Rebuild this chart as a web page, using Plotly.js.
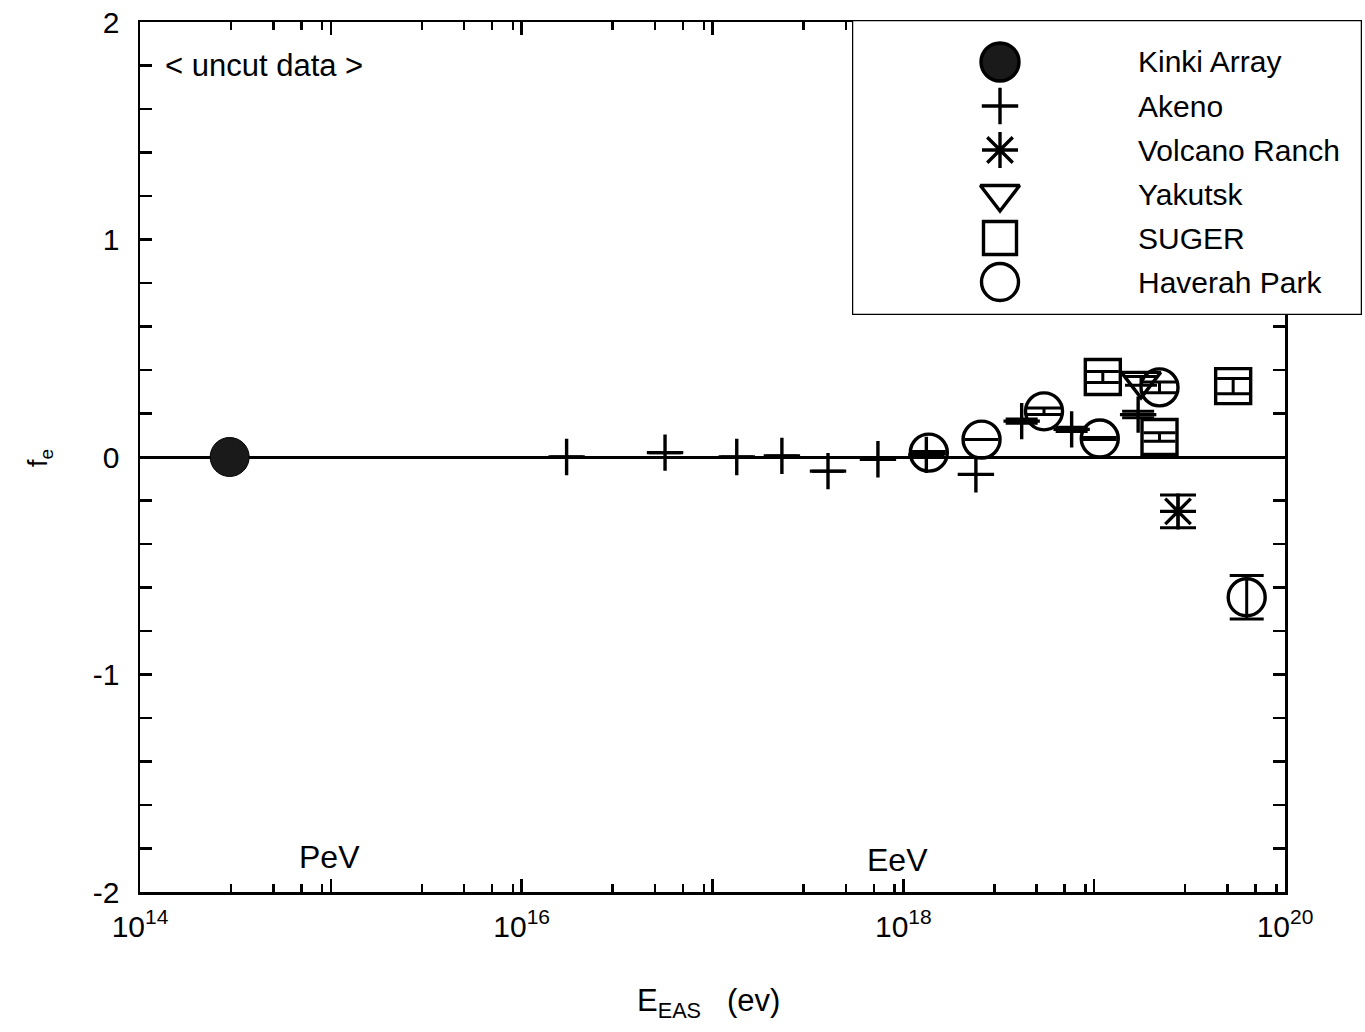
<!DOCTYPE html>
<html><head><meta charset="utf-8">
<script src="https://cdn.plot.ly/plotly-3.0.1.min.js"></script>
<style>html,body{margin:0;padding:0;background:#fff}#chart{width:1365px;height:1032px}</style>
</head><body><div id="chart"></div>
<script>
// ---- data ----
const seriesNames = ['Kinki Array', 'Akeno', 'Volcano Ranch', 'Yakutsk', 'SUGER', 'Haverah Park'];

const kinkiE = [2.95e14];
const kinkiF = [0.0];

const akenoE   = [1.72e16, 5.64e16, 1.34e17, 2.31e17, 4.03e17, 7.36e17, 1.32e18, 2.40e18, 4.17e18, 7.62e18, 1.70e19];
const akenoF   = [0.0, 0.02, 0.0, 0.005, -0.065, -0.01, 0.01, -0.08, 0.165, 0.127, 0.195];
const akenoErr = [0, 0, 0, 0, 0, 0, 0, 0, 0.01, 0.01, 0.015];

const volcanoE   = [2.75e19];
const volcanoF   = [-0.25];
const volcanoErr = [0.075];

const yakutskE   = [1.76e19];
const yakutskF   = [0.35];
const yakutskErr = [0.02];

const sugerE   = [1.11e19, 2.20e19, 5.35e19];
const sugerF   = [0.368, 0.092, 0.326];
const sugerErr = [0.025, 0.02, 0.035];

const haverahE   = [1.36e18, 2.57e18, 5.46e18, 1.07e19, 2.20e19, 6.30e19];
const haverahF   = [0.02, 0.08, 0.21, 0.085, 0.32, -0.645];
const haverahErr = [0.005, 0.0, 0.015, 0.005, 0.025, 0.1];

const xDecades   = [1e14, 1e15, 1e16, 1e17, 1e18, 1e19, 1e20];
const xTickText  = ['10<sup>14</sup>', '', '10<sup>16</sup>', '', '10<sup>18</sup>', '', '10<sup>20</sup>'];
const xMinorMult = [3, 5, 7, 9];
const yTickVals  = [-2, -1, 0, 1, 2];
const yTickText  = ['-2', '-1', '0', '1', '2'];

// ---- layout helpers ----
const W = 1365, H = 1032;
const mL = 140, mR = 0, mT = 18, mB = 140;
const pw = W - mL - mR, ph = H - mT - mB;
const PX = x => (x - mL) / pw;
const PY = y => (H - mB - y) / ph;

const narrow = 'Liberation Sans Narrow, Liberation Sans, Arial, sans-serif';
const regular = 'Liberation Sans, Arial, sans-serif';

const xMinor = [];
for (let i = 0; i < xDecades.length - 1; i++) xMinorMult.forEach(m => xMinor.push(m * xDecades[i]));

function errTrace(name, x, y, err, symbol, size, w) {
  return {
    type: 'scatter', mode: 'markers', name: name, x: x, y: y,
    xaxis: 'x', yaxis: 'y', showlegend: false, cliponaxis: false,
    marker: {symbol: symbol, size: size, color: '#000', opacity: 1, line: {width: 3.4, color: '#000'}},
    error_y: err ? {type: 'data', array: err, visible: true, color: '#000', thickness: 3, width: w} : {visible: false}
  };
}

const traces = [
  {type: 'scatter', mode: 'markers', name: seriesNames[0], x: kinkiE, y: kinkiF, xaxis: 'x', yaxis: 'y', showlegend: false,
   marker: {symbol: 'circle', size: 39, color: '#1a1a1a', opacity: 1, line: {width: 1, color: '#000'}}},
  errTrace(seriesNames[1], akenoE, akenoF, akenoErr, 'cross-thin-open', 26, 16),
  errTrace(seriesNames[2], volcanoE, volcanoF, volcanoErr, 'asterisk-open', 30, 18),
  errTrace(seriesNames[3], yakutskE, yakutskF, yakutskErr, 'triangle-down-open', 34, 16),
  errTrace(seriesNames[4], sugerE, sugerF, sugerErr, 'square-open', 35, 16),
  errTrace(seriesNames[5], haverahE, haverahF, haverahErr, 'circle-open', 37, 17)
];

// ---- manual legend (on its own small subplot) ----
const legSymbols = ['circle', 'cross-thin-open', 'asterisk-open', 'triangle-down-open', 'square-open', 'circle-open'];
const legSizes = [38, 26, 30, 34, 33, 37];
const legColors = ['#1a1a1a', '#000', '#000', '#000', '#000', '#000'];
const legBox = {x0: 852, x1: 1362, y0: 20, y1: 315};
const legRows = seriesNames.map((_, i) => (legBox.y1 - (62 + i * 44)) / (legBox.y1 - legBox.y0));
const legSymX = (1000 - legBox.x0) / (legBox.x1 - legBox.x0);
const legTxtX = (1136 - legBox.x0) / (legBox.x1 - legBox.x0);

traces.push({
  type: 'scatter', mode: 'markers', x: seriesNames.map(() => legSymX), y: legRows,
  xaxis: 'x2', yaxis: 'y2', showlegend: false, hoverinfo: 'skip', cliponaxis: false,
  marker: {symbol: legSymbols, size: legSizes, color: legColors, opacity: 1,
           line: {width: 3.4, color: '#000'}}
});

const annotations = seriesNames.map((n, i) => ({
  xref: 'x2', yref: 'y2', x: legTxtX, y: legRows[i], text: n, showarrow: false,
  xanchor: 'left', yanchor: 'middle', font: {family: regular, size: 30, color: '#000'}
}));
annotations.push(
  {xref: 'paper', yref: 'paper', x: PX(163), y: PY(65), text: '&lt; uncut data &gt;', showarrow: false,
   xanchor: 'left', yanchor: 'middle', font: {family: regular, size: 31, color: '#000'}},
  {xref: 'paper', yref: 'paper', x: PX(329), y: PY(857), text: 'PeV', showarrow: false,
   xanchor: 'center', yanchor: 'middle', font: {family: narrow, size: 32, color: '#000'}},
  {xref: 'paper', yref: 'paper', x: PX(897), y: PY(860), text: 'EeV', showarrow: false,
   xanchor: 'center', yanchor: 'middle', font: {family: narrow, size: 32, color: '#000'}},
  {xref: 'paper', yref: 'paper', x: PX(708), y: PY(1003), text: 'E<sub>EAS</sub>\u00a0\u00a0\u00a0(ev)', showarrow: false,
   xanchor: 'center', yanchor: 'middle', font: {family: narrow, size: 31, color: '#000'}},
  {xref: 'paper', yref: 'paper', x: PX(40), y: PY(458), text: 'f<sub>e</sub>', showarrow: false, textangle: -90,
   xanchor: 'center', yanchor: 'middle', font: {family: narrow, size: 27, color: '#000'}}
);

const axisCommon = {
  showline: true, linecolor: '#000', linewidth: 2.5, mirror: 'allticks',
  ticks: 'inside', tickcolor: '#000', tickwidth: 2.5,
  showgrid: false, fixedrange: true,
  tickfont: {family: narrow, size: 30, color: '#000'}
};

const layout = {
  width: W, height: H,
  margin: {l: mL, r: mR, t: mT, b: mB},
  paper_bgcolor: '#fff', plot_bgcolor: '#fff',
  showlegend: false,
  xaxis: Object.assign({}, axisCommon, {
    type: 'log', range: [14, 20], domain: [0, PX(1285)], anchor: 'y',
    tickmode: 'array', tickvals: xDecades, ticktext: xTickText, ticklen: 13,
    ticklabelstandoff: 6, zeroline: false,
    minor: {tickmode: 'array', tickvals: xMinor, ticks: 'inside', ticklen: 8, tickwidth: 2.5, tickcolor: '#000', showgrid: false}
  }),
  yaxis: Object.assign({}, axisCommon, {
    range: [-2, 2], domain: [0, PY(22)], anchor: 'x',
    tickmode: 'array', tickvals: yTickVals, ticktext: yTickText, ticklen: 12,
    ticklabelstandoff: 12,
    zeroline: true, zerolinecolor: '#000', zerolinewidth: 3,
    minor: {dtick: 0.2, tick0: 0, ticks: 'inside', ticklen: 12, tickwidth: 2.5, tickcolor: '#000', showgrid: false}
  }),
  xaxis2: {domain: [PX(legBox.x0), PX(legBox.x1)], range: [0, 1], anchor: 'y2', visible: false, fixedrange: true},
  yaxis2: {domain: [PY(legBox.y1), PY(legBox.y0)], range: [0, 1], anchor: 'x2', visible: false, fixedrange: true},
  shapes: [
    {type: 'rect', xref: 'x2', yref: 'y2', x0: 0, x1: 1, y0: 0, y1: 1, layer: 'below',
     fillcolor: '#fff', line: {color: '#000', width: 2.5}}
  ],
  annotations: annotations
};

Plotly.newPlot('chart', traces, layout, {staticPlot: true, displayModeBar: false});
</script>
</body></html>
